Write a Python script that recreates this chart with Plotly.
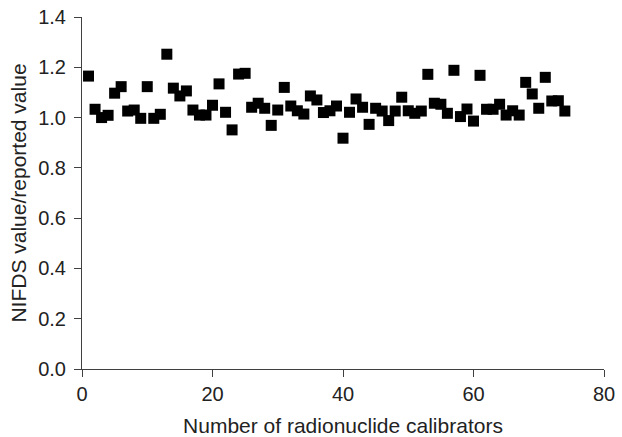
import plotly.graph_objects as go

calibrator = list(range(1, 75))
ratio = [1.165, 1.033, 1.000, 1.009, 1.097, 1.123, 1.026, 1.030, 0.997, 1.123,
         0.997, 1.013, 1.252, 1.117, 1.086, 1.106, 1.030, 1.010, 1.010, 1.049,
         1.134, 1.021, 0.951, 1.173, 1.176, 1.041, 1.057, 1.037, 0.969, 1.030,
         1.120, 1.046, 1.027, 1.014, 1.086, 1.070, 1.020, 1.027, 1.046, 0.918,
         1.021, 1.074, 1.041, 0.973, 1.037, 1.026, 0.988, 1.026, 1.081, 1.027,
         1.017, 1.026, 1.172, 1.057, 1.053, 1.017, 1.188, 1.004, 1.034, 0.986,
         1.168, 1.033, 1.033, 1.053, 1.010, 1.027, 1.010, 1.140, 1.094, 1.037,
         1.160, 1.066, 1.067, 1.026]

x_ticks = [0, 20, 40, 60, 80]
y_ticks = [0.0, 0.2, 0.4, 0.6, 0.8, 1.0, 1.2, 1.4]

fig = go.Figure(go.Scatter(
    x=calibrator, y=ratio, mode="markers",
    marker=dict(symbol="square", size=11, color="black"),
    cliponaxis=False,
))

font = "Liberation Sans, Arial, sans-serif"
axis_common = dict(
    showgrid=False, zeroline=False, showline=True, linecolor="#404040", linewidth=1,
    ticks="outside", ticklen=7, tickcolor="#404040", automargin=False,
    ticklabeloverflow="allow",
    tickfont=dict(family=font, size=20, color="#222"),
)
fig.update_layout(
    width=622, height=437,
    margin=dict(l=82, r=18, t=17, b=68),
    plot_bgcolor="white", paper_bgcolor="white",
    showlegend=False,
    xaxis=dict(range=[0, 80], tickvals=x_ticks, **axis_common,
               title=dict(text="Number of radionuclide calibrators",
                          font=dict(family=font, size=21, color="#222"), standoff=15)),
    yaxis=dict(range=[0, 1.4], tickvals=y_ticks, tickformat=".1f", ticklabelstandoff=4,
               **axis_common,
               title=dict(text="NIFDS value/reported value",
                          font=dict(family=font, size=21, color="#222"), standoff=5)),
)
fig.write_html("out.html", config={"displayModeBar": False},
               post_script="document.body.style.margin='0';document.body.style.overflow='hidden';")
